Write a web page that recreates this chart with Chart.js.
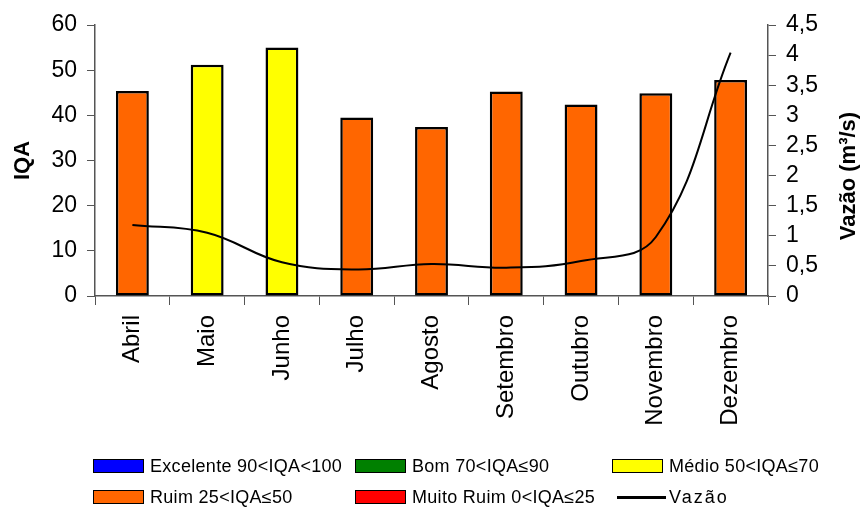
<!DOCTYPE html>
<html>
<head>
<meta charset="utf-8">
<script src="https://cdn.jsdelivr.net/npm/chart.js@4.4.0/dist/chart.umd.min.js"></script>
<style>
  body { margin: 0; background: #fff; }
  #wrap { position: relative; width: 863px; height: 508px; }
  .lg { position: absolute; font-family: "Liberation Sans", Arial, sans-serif; font-size: 18px; letter-spacing: 0.3px; color: #000; white-space: nowrap; line-height: 18px; }
  .lg .box { position: absolute; left: 0; top: 2px; width: 51px; height: 14px; border: 1.5px solid #000; box-sizing: border-box; }
  .lg .ln { position: absolute; left: 5px; top: 8px; width: 49px; height: 3px; background: #000; }
  .lg span.t { position: absolute; left: 57px; top: 0; }
</style>
</head>
<body>
<div id="wrap">
  <canvas id="chart" width="863" height="508"></canvas>
  <div id="legend"></div>
</div>
<script>
const months = ['Abril', 'Maio', 'Junho', 'Julho', 'Agosto', 'Setembro', 'Outubro', 'Novembro', 'Dezembro'];
const iqa = [45.4, 51.2, 55.0, 39.5, 37.4, 45.3, 42.4, 44.9, 47.8];
const vazao = [1.18, 1.05, 0.56, 0.44, 0.53, 0.47, 0.58, 0.98, 4.04];
const classNames = ['Excelente 90<IQA<100', 'Bom 70<IQA≤90', 'Médio 50<IQA≤70', 'Ruim 25<IQA≤50', 'Muito Ruim 0<IQA≤25'];
const classColors = ['#0000FF', '#008000', '#FFFF00', '#FF6600', '#FF0000'];
const classMin = [90, 70, 50, 25, 0];

function classOf(v) {
    for (let i = 0; i < classMin.length; i++) {
        if (v > classMin[i]) return i;
    }
    return classMin.length - 1;
}

const font = "'Liberation Sans', Arial, sans-serif";
const axisColor = '#555';

// right axis title reads bottom-to-top like the left one
const rightTitle = {
    id: 'rightTitle',
    afterDraw(chart) {
        const ctx = chart.ctx;
        ctx.save();
        ctx.translate(849, 176);
        ctx.rotate(-Math.PI / 2);
        ctx.font = 'bold 22px ' + font;
        ctx.fillStyle = '#000';
        ctx.textAlign = 'center';
        ctx.textBaseline = 'middle';
        ctx.fillText('Vazão (m³/s)', 0, 0);
        ctx.restore();
    }
};

new Chart(document.getElementById('chart'), {
    data: {
        labels: months,
        datasets: [{
            type: 'line',
            label: 'Vazão',
            data: vazao,
            yAxisID: 'y1',
            borderColor: '#000',
            borderWidth: 2,
            pointRadius: 0,
            tension: 0.4,
            fill: false,
            order: 0
        }, {
            type: 'bar',
            label: 'IQA',
            data: iqa,
            yAxisID: 'y',
            backgroundColor: iqa.map(v => classColors[classOf(v)]),
            borderColor: '#000',
            borderWidth: 2.5,
            borderSkipped: false,
            barPercentage: 0.44,
            categoryPercentage: 1,
            order: 1
        }]
    },
    options: {
        responsive: false,
        animation: false,
        devicePixelRatio: 1,
        layout: { padding: { top: 25, left: 0, right: 0, bottom: 0 } },
        plugins: { legend: { display: false }, tooltip: { enabled: false } },
        scales: {
            x: {
                offset: true,
                grid: { display: true, drawOnChartArea: false, tickLength: 9, color: axisColor, lineWidth: 1 },
                border: { display: true, color: axisColor, width: 1.5 },
                ticks: { font: { family: font, size: 24 }, color: '#000', maxRotation: 90, minRotation: 90, padding: 10 },
                afterFit(scale) { scale.height = 212; }
            },
            y: {
                position: 'left',
                min: 0, max: 60,
                ticks: { stepSize: 10, font: { family: font, size: 23, lineHeight: 1 }, color: '#000', padding: 10, autoSkip: false },
                grid: { display: true, drawOnChartArea: false, tickLength: 8, color: axisColor },
                border: { display: true, color: axisColor, width: 1.5 },
                title: { display: true, text: 'IQA', font: { family: font, size: 22, weight: 'bold' }, color: '#000', padding: { top: 10, bottom: 0 } },
                afterFit(scale) { scale.width = 95; }
            },
            y1: {
                position: 'right',
                min: 0, max: 4.5,
                ticks: {
                    stepSize: 0.5, font: { family: font, size: 23, lineHeight: 1 }, color: '#000', padding: 10,
                    autoSkip: false, maxTicksLimit: 20,
                    callback: v => String(v).replace('.', ',')
                },
                grid: { display: true, drawOnChartArea: false, tickLength: 8, color: axisColor },
                border: { display: true, color: axisColor, width: 1.5 },
                afterFit(scale) { scale.width = 95; }
            }
        }
    },
    plugins: [rightTitle]
});

// legend below the plot, three columns
const legendPos = [[93, 457], [355, 457], [612, 457], [93, 488], [355, 488]];
const legend = document.getElementById('legend');
function addItem(x, y, markClass, color, text) {
    const d = document.createElement('div');
    d.className = 'lg';
    d.style.left = x + 'px';
    d.style.top = y + 'px';
    const mark = document.createElement('div');
    mark.className = markClass;
    if (color) mark.style.background = color;
    const t = document.createElement('span');
    t.className = 't';
    t.textContent = text;
    d.appendChild(mark);
    d.appendChild(t);
    legend.appendChild(d);
    return t;
}
classNames.forEach((name, i) => addItem(legendPos[i][0], legendPos[i][1], 'box', classColors[i], name));
addItem(612, 488, 'ln', null, 'Vazão').style.letterSpacing = '2px';
</script>
</body>
</html>
